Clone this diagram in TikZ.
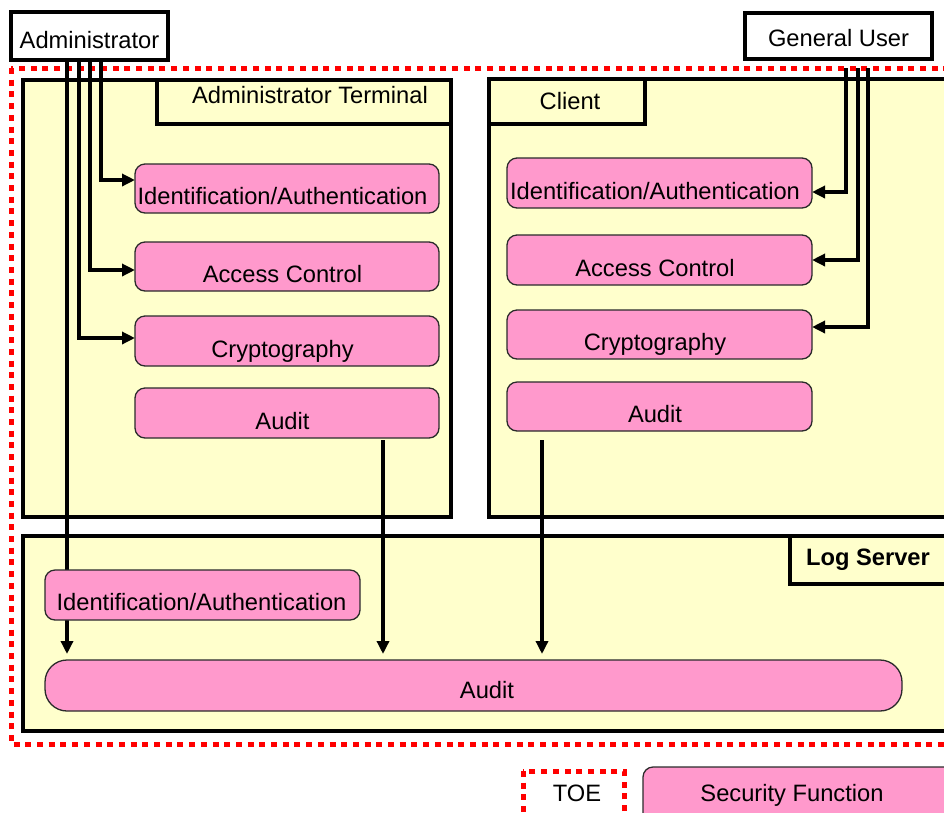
\documentclass[tikz,border=0pt]{standalone}
\usepackage{fontspec}
\setmainfont{Liberation Sans}
\usetikzlibrary{arrows.meta}
\definecolor{panel}{HTML}{FFFFCC}
\definecolor{sfpink}{HTML}{FF99CC}
\definecolor{toered}{HTML}{FF0000}
\definecolor{sfedge}{HTML}{2B2B2B}
\pgfdeclarelayer{hosts}
\pgfdeclarelayer{links}
\pgfsetlayers{hosts,links,main}

\begin{document}
\begin{tikzpicture}[x=1pt,y=-1pt,
  every node/.style={font=\fontsize{23.7}{28}\selectfont, inner sep=0pt, outer sep=0pt},
  actor/.style={draw, line width=4pt, fill=white, anchor=north west, text depth=0pt},
  host/.style={draw, line width=4.5pt, fill=panel, anchor=north west},
  sfbox/.style={draw=sfedge, line width=1.3pt, fill=sfpink, rounded corners=10pt,
                anchor=north west, text height=32pt, text depth=0pt,
                execute at begin node=\hspace*{-9pt}},
  caption/.style={text height=17pt, text depth=0pt},
  toeline/.style={draw=toered, line width=5pt, dash pattern=on 6pt off 5.7pt},
  conn/.style={line width=3.5pt, -{Triangle[length=13pt,width=12pt]}},
]
\useasboundingbox (0,0) rectangle (944,812);
\clip (0,0) rectangle (944,812);

\begin{pgfonlayer}{hosts}
% TOE boundary
\draw[toeline] (11,68) rectangle (980,744);

% hosts and their title tabs
\node[host, minimum width=428pt, minimum height=437pt] (at) at (23,80) {};
\node[host, minimum width=294pt, minimum height=44pt] (attab) at (157,80) {};
\node[caption] (attxt) at (310,95) {Administrator Terminal};

\node[host, minimum width=480pt, minimum height=438pt] (cl) at (489,79) {};
\node[host, minimum width=156pt, minimum height=45pt] (cltab) at (489,79) {};
\node[caption] (cltxt) at (570,101) {Client};

\node[host, minimum width=950pt, minimum height=195pt] (ls) at (23,536) {};
\node[host, minimum width=180pt, minimum height=48pt] (lstab) at (790,536) {};
\node[caption, font=\fontsize{23.7}{28}\selectfont\bfseries] (lstxt) at (868,557) {Log Server};
\end{pgfonlayer}

% users
\node[actor, minimum width=157pt, minimum height=48pt, text height=25pt] (adm) at (11,12) {Administrator};
\node[actor, minimum width=187pt, minimum height=46pt, text height=20pt] (gu) at (745,13) {General User};

% security functions: administrator terminal
\path
  node[sfbox, minimum width=304pt, minimum height=49pt] (ai)  at (135,164) {Identification/Authentication}
  node[sfbox, minimum width=304pt, minimum height=49pt] (ac)  at (135,242) {Access Control}
  node[sfbox, minimum width=304pt, minimum height=50pt] (acr) at (135,316) {Cryptography}
  node[sfbox, minimum width=304pt, minimum height=50pt] (aau) at (135,388) {Audit};

% security functions: client
\path
  node[sfbox, minimum width=305pt, minimum height=50pt] (ci)  at (507,158) {Identification/Authentication}
  node[sfbox, minimum width=305pt, minimum height=50pt] (cc)  at (507,235) {Access Control}
  node[sfbox, minimum width=305pt, minimum height=49pt] (ccr) at (507,310) {Cryptography}
  node[sfbox, minimum width=305pt, minimum height=49pt] (cau) at (507,382) {Audit};

% security functions: log server (the extra space adds to the style's offset)
\node[sfbox, minimum width=315pt, minimum height=50pt, text height=30pt,
      execute at begin node=\hspace*{7pt}] (li) at (45,570) {Identification/Authentication};
\node[sfbox, minimum width=857pt, minimum height=51pt, text height=26pt, rounded corners=22pt,
      execute at begin node=\hspace*{36pt}] (lau) at (45,660) {Audit};

% legend
\draw[toeline] (523,771) rectangle (624,840);
\node[caption] (toetxt) at (577,792.5) {TOE};
\node[sfbox, minimum width=330pt, minimum height=70pt] (sfkey) at (643,767) {};
\node[caption] (sftxt) at (792,792.5) {Security Function};

% connector start points
\coordinate (a1) at ([xshift=11.5pt]adm.south);
\coordinate (a2) at ([xshift=0.5pt]adm.south);
\coordinate (a3) at ([xshift=-10.5pt]adm.south);
\coordinate (a4) at ([xshift=-22.5pt]adm.south);
\coordinate (g1) at ([xshift=7.5pt,yshift=-9pt]gu.south);
\coordinate (g2) at ([xshift=19.5pt,yshift=-9pt]gu.south);
\coordinate (g3) at ([xshift=29.5pt,yshift=-9pt]gu.south);
\coordinate (d1) at ([xshift=96pt,yshift=-2pt]aau.south);
\coordinate (d2) at ([xshift=-117.5pt,yshift=-9pt]cau.south);

% connectors, beneath the function boxes
\begin{pgfonlayer}{links}
\draw[conn] (a1) |- ([yshift=8.5pt]ai.west);
\draw[conn] (a2) |- ([yshift=-3.5pt]ac.west);
\draw[conn] (a3) |- ([yshift=3pt]acr.west);
\draw[conn, shorten >=6pt] (a4) -- (a4 |- lau.north);
\draw[conn] (g1) |- ([yshift=-9pt]ci.east);
\draw[conn] (g2) |- (cc.east);
\draw[conn] (g3) |- ([yshift=7.5pt]ccr.east);
\draw[conn, shorten >=6pt] (d1) -- (d1 |- lau.north);
\draw[conn, shorten >=6pt] (d2) -- (d2 |- lau.north);
\end{pgfonlayer}
\end{tikzpicture}
\end{document}
